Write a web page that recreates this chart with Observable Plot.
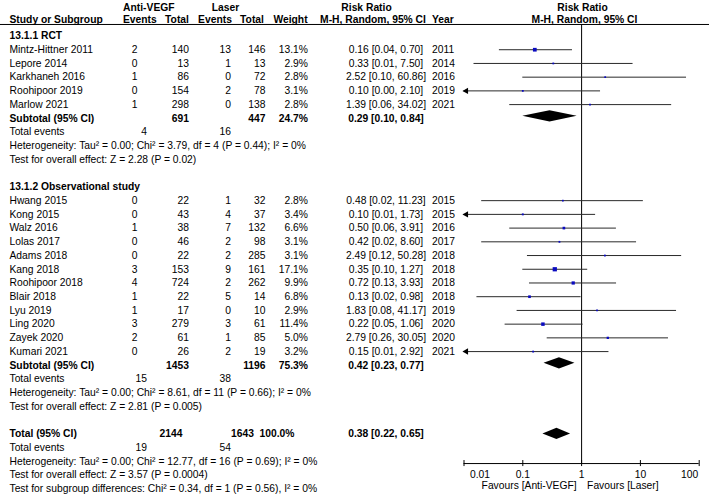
<!DOCTYPE html>
<html>
<head>
<meta charset="utf-8">
<script src="https://cdn.jsdelivr.net/npm/d3@7"></script>
<script src="https://cdn.jsdelivr.net/npm/@observablehq/plot@0.6"></script>
<style>
  html, body { margin: 0; padding: 0; background: #fff; }
  #chart { width: 709px; height: 501px; }
  g[aria-label="underlined"] text { text-decoration: underline; }
</style>
</head>
<body>
<div id="chart"></div>
<script>
// ---- study data ----
const groupTitles = ["13.1.1 RCT", "13.1.2 Observational study"];
const studyNames = ["Mintz-Hittner 2011", "Lepore 2014", "Karkhaneh 2016", "Roohipoor 2019", "Marlow 2021",
  "Hwang 2015", "Kong 2015", "Walz 2016", "Lolas 2017", "Adams 2018", "Kang 2018", "Roohipoor 2018",
  "Blair 2018", "Lyu 2019", "Ling 2020", "Zayek 2020", "Kumari 2021"];
const groupOf     = [0, 0, 0, 0, 0, 1, 1, 1, 1, 1, 1, 1, 1, 1, 1, 1, 1];
const antiEvents  = [2, 0, 1, 0, 1, 0, 0, 1, 0, 0, 3, 4, 1, 1, 3, 2, 0];
const antiTotal   = [140, 13, 86, 154, 298, 22, 43, 38, 46, 22, 153, 724, 22, 17, 279, 61, 26];
const laserEvents = [13, 1, 0, 2, 0, 1, 4, 7, 2, 2, 9, 2, 5, 0, 3, 1, 2];
const laserTotal  = [146, 13, 72, 78, 138, 32, 37, 132, 98, 285, 161, 262, 14, 10, 61, 85, 19];
const weights     = [13.1, 2.9, 2.8, 3.1, 2.8, 2.8, 3.4, 6.6, 3.1, 3.1, 17.1, 9.9, 6.8, 2.9, 11.4, 5.0, 3.2];
const riskRatio   = [0.16, 0.33, 2.52, 0.10, 1.39, 0.48, 0.10, 0.50, 0.42, 2.49, 0.35, 0.72, 0.13, 1.83, 0.22, 2.79, 0.15];
const ciLower     = [0.04, 0.0148, 0.10, 0.0049, 0.06, 0.02, 0.0053, 0.06, 0.02, 0.12, 0.10, 0.13, 0.0166, 0.08, 0.05, 0.26, 0.0075];
const ciUpper     = [0.70, 7.50, 60.86, 2.10, 34.02, 11.23, 1.73, 3.91, 8.60, 50.28, 1.27, 3.93, 0.98, 41.17, 1.06, 30.05, 2.92];
const years       = [2011, 2014, 2016, 2019, 2021, 2015, 2015, 2016, 2017, 2018, 2018, 2018, 2018, 2019, 2020, 2020, 2021];

// ---- subgroup summaries ----
const subAntiTotal   = [691, 1453];
const subLaserTotal  = [447, 1196];
const subWeight      = [24.7, 75.3];
const subRR          = [0.29, 0.42];
const subLower       = [0.10, 0.23];
const subUpper       = [0.84, 0.77];
const subAntiEvents  = [4, 15];
const subLaserEvents = [16, 38];
const subHeterogeneity = [
  "Heterogeneity: Tau² = 0.00; Chi² = 3.79, df = 4 (P = 0.44); I² = 0%",
  "Heterogeneity: Tau² = 0.00; Chi² = 8.61, df = 11 (P = 0.66); I² = 0%"
];
const subOverallEffect = [
  "Test for overall effect: Z = 2.28 (P = 0.02)",
  "Test for overall effect: Z = 2.81 (P = 0.005)"
];

// ---- pooled total ----
const totalAntiTotal = 2144, totalLaserTotal = 1643, totalWeight = 100.0;
const totalRR = 0.38, totalLower = 0.22, totalUpper = 0.65;
const totalAntiEvents = 19, totalLaserEvents = 54;
const totalHeterogeneity = "Heterogeneity: Tau² = 0.00; Chi² = 12.77, df = 16 (P = 0.69); I² = 0%";
const totalOverallEffect = "Test for overall effect: Z = 3.57 (P = 0.0004)";
const subgroupTest = "Test for subgroup differences: Chi² = 0.34, df = 1 (P = 0.56), I² = 0%";

// ---- axis ----
const axisTicks = [0.01, 0.1, 1, 10, 100];
const axisTickLabels = ["0.01", "0.1", "1", "10", "100"];
const favoursLeft = "Favours [Anti-VEGF]";
const favoursRight = "Favours [Laser]";

// ---- layout ----
const W = 709, H = 501;
const ML = 463.5, MR = 10.3;           // forest panel occupies [ML, W - MR]
const COL = {
  name: 9, aEv: 137, aTot: 188.5, lEv: 230.5, lTot: 265, wt: 307.5, rr: 385.5, year: 431.5,
  tevA: 146.5, tevL: 230.5, totA: 182, totL: 253.5, totW: 294
};
const ROW = { head1: -2.08, head2: -1.2, rule: -0.84, axis: 31.16, tickLabel: 31.96, favours: 32.76 };

const cells = [];
const put = (row, x, anchor, text, style = "") => cells.push({row, x, anchor, text, style});
const f2 = v => v.toFixed(2);
const ciText = (e, l, h) => `${f2(e)} [${f2(l)}, ${f2(h)}]`;

// header
put(ROW.head1, 148.3, "middle", "Anti-VEGF", "b");
put(ROW.head1, 225, "middle", "Laser", "b");
put(ROW.head1, 366, "middle", "Risk Ratio", "b");
put(ROW.head1, 582, "middle", "Risk Ratio", "b");
put(ROW.head2, 9, "start", "Study or Subgroup", "bu");
put(ROW.head2, 139.3, "middle", "Events", "bu");
put(ROW.head2, 176.5, "middle", "Total", "bu");
put(ROW.head2, 214.5, "middle", "Events", "bu");
put(ROW.head2, 251.5, "middle", "Total", "bu");
put(ROW.head2, 290, "middle", "Weight", "bu");
put(ROW.head2, 372.5, "middle", "M-H, Random, 95% CI", "bu");
put(ROW.head2, 431.5, "start", "Year", "bu");
put(ROW.head2, 584, "middle", "M-H, Random, 95% CI", "bu");

const studyRows = [];
const diamonds = [];
let row = 0;
groupTitles.forEach((title, g) => {
  put(row++, COL.name, "start", title, "b");
  studyNames.forEach((name, i) => {
    if (groupOf[i] !== g) return;
    put(row, COL.name, "start", name);
    put(row, COL.aEv, "end", String(antiEvents[i]));
    put(row, COL.aTot, "end", String(antiTotal[i]));
    put(row, COL.lEv, "end", String(laserEvents[i]));
    put(row, COL.lTot, "end", String(laserTotal[i]));
    put(row, COL.wt, "end", weights[i].toFixed(1) + "%");
    put(row, COL.rr, "middle", ciText(riskRatio[i], ciLower[i], ciUpper[i]));
    put(row, COL.year, "start", String(years[i]));
    studyRows.push({row, rr: riskRatio[i], lo: ciLower[i], hi: ciUpper[i], weight: weights[i]});
    row++;
  });
  put(row, COL.name, "start", "Subtotal (95% CI)", "b");
  put(row, COL.aTot, "end", String(subAntiTotal[g]), "b");
  put(row, COL.lTot, "end", String(subLaserTotal[g]), "b");
  put(row, COL.wt, "end", subWeight[g].toFixed(1) + "%", "b");
  put(row, COL.rr, "middle", ciText(subRR[g], subLower[g], subUpper[g]), "b");
  diamonds.push({id: g, row: row - 0.15, est: subRR[g], lo: subLower[g], hi: subUpper[g]});
  row++;
  put(row, COL.name, "start", "Total events");
  put(row, COL.tevA, "end", String(subAntiEvents[g]));
  put(row, COL.tevL, "end", String(subLaserEvents[g]));
  row++;
  put(row++, COL.name, "start", subHeterogeneity[g]);
  put(row++, COL.name, "start", subOverallEffect[g]);
  row++; // spacer
});
put(row, COL.name, "start", "Total (95% CI)", "b");
put(row, COL.totA, "end", String(totalAntiTotal), "b");
put(row, COL.totL, "end", String(totalLaserTotal), "b");
put(row, COL.totW, "end", totalWeight.toFixed(1) + "%", "b");
put(row, COL.rr, "middle", ciText(totalRR, totalLower, totalUpper), "b");
diamonds.push({id: 2, row, est: totalRR, lo: totalLower, hi: totalUpper});
row++;
put(row, COL.name, "start", "Total events");
put(row, COL.tevA, "end", String(totalAntiEvents));
put(row, COL.tevL, "end", String(totalLaserEvents));
row++;
put(row++, COL.name, "start", totalHeterogeneity);
put(row++, COL.name, "start", totalOverallEffect);
put(row++, COL.name, "start", subgroupTest);

// diamond outlines: left tip, top/bottom at the estimate, right tip
const HALF = 0.41;
const diamondPts = diamonds.flatMap(d => [
  {id: d.id, x: d.lo, y1: d.row, y2: d.row},
  {id: d.id, x: d.est, y1: d.row - HALF, y2: d.row + HALF},
  {id: d.id, x: d.hi, y1: d.row, y2: d.row}
]);

const xMin = axisTicks[0], xMax = axisTicks[axisTicks.length - 1];
const clipped = studyRows.filter(d => d.lo < xMin);
const tickData = axisTicks.map((t, i) => ({t, label: axisTickLabels[i]}));

const textMarks = d3.groups(cells, d => `${d.x}|${d.anchor}|${d.style}`).map(([, data]) => {
  const {x, anchor, style} = data[0];
  return Plot.text(data, {
    y: "row", text: "text", frameAnchor: "left", dx: x - ML,
    textAnchor: anchor, lineAnchor: "middle",
    fontWeight: style.includes("b") ? "bold" : "normal",
    ariaLabel: style.includes("u") ? "underlined" : "text"
  });
});

const chart = Plot.plot({
  width: W, height: H,
  marginLeft: ML, marginRight: MR, marginTop: 0, marginBottom: 0,
  x: {type: "log", domain: [xMin, xMax], axis: null},
  y: {domain: [0, 33], range: [35.5, 488.3], axis: null},
  r: {type: "sqrt", domain: [0, 17.1], range: [0, 2.4]},
  style: {fontFamily: "'Liberation Sans', Arial, sans-serif", fontSize: "10.3px", color: "#000", background: "#fff"},
  marks: [
    // header rule across the full width
    Plot.ruleY([ROW.rule], {y: d => d, insetLeft: -ML, insetRight: -MR, stroke: "#000"}),
    // line of no effect
    Plot.ruleX([1], {x: d => d, y1: ROW.rule, y2: ROW.axis, stroke: "#000"}),
    // confidence intervals
    Plot.ruleY(studyRows, {y: "row", x1: d => Math.max(d.lo, xMin), x2: "hi", stroke: "#2a2a2a"}),
    Plot.dot(clipped, {x: () => xMin, y: "row", symbol: "triangle", rotate: -90, r: 2.4, fill: "#000", stroke: null, dx: 2.2}),
    // study estimates, sized by weight
    Plot.dot(studyRows, {x: "rr", y: "row", r: "weight", symbol: "square", fill: "#0a0ac0", stroke: null}),
    // pooled estimates
    Plot.areaY(diamondPts, {x: "x", y1: "y1", y2: "y2", z: "id", fill: "#000", curve: "linear"}),
    // x axis
    Plot.ruleY([ROW.axis], {y: d => d, x1: () => xMin, x2: () => xMax, stroke: "#000"}),
    Plot.ruleX(axisTicks, {x: d => d, y1: ROW.axis - 0.22, y2: ROW.axis + 0.22, stroke: "#000"}),
    Plot.text(tickData.slice(1, -1), {x: "t", y: ROW.tickLabel, text: "label", lineAnchor: "middle"}),
    Plot.text(tickData.slice(0, 1), {x: "t", y: ROW.tickLabel, text: "label", textAnchor: "start", dx: 6, lineAnchor: "middle"}),
    Plot.text(tickData.slice(-1), {x: "t", y: ROW.tickLabel, text: "label", textAnchor: "end", dx: -1, lineAnchor: "middle"}),
    Plot.text([1], {x: d => d, y: ROW.favours, text: () => favoursLeft, textAnchor: "end", dx: -5, lineAnchor: "middle"}),
    Plot.text([1], {x: d => d, y: ROW.favours, text: () => favoursRight, textAnchor: "start", dx: 5.5, lineAnchor: "middle"}),
    ...textMarks
  ]
});
document.getElementById("chart").appendChild(chart);
</script>
</body>
</html>
